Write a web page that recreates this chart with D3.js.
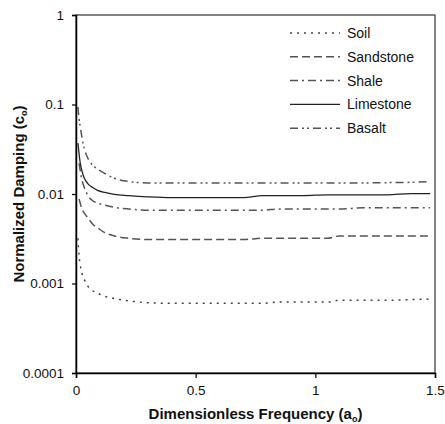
<!DOCTYPE html>
<html>
<head>
<meta charset="utf-8">
<script src="https://cdn.jsdelivr.net/npm/d3@7"></script>
<style>
  body { margin: 0; background: #fff; }
  text { font-family: "Liberation Sans", Arial, sans-serif; }
</style>
</head>
<body>
<div id="chart"></div>
<script>
// dimensionless frequency a_o
const freq = [0.008, 0.013, 0.018, 0.025, 0.035, 0.05, 0.07, 0.09, 0.12, 0.16, 0.22, 0.3,
              0.4, 0.5, 0.6, 0.7, 0.78, 0.85, 0.95, 1.05, 1.1, 1.2, 1.3, 1.4, 1.48];

const soil      = [0.0032, 0.0020, 0.0016, 0.0013, 0.0011, 0.00093, 0.00083, 0.00078, 0.00072, 0.00068, 0.00064, 0.00061,
                   0.00060, 0.00060, 0.00060, 0.00060, 0.00060, 0.00062, 0.00062, 0.00062, 0.00065, 0.00065, 0.00065, 0.00066, 0.00067];
const sandstone = [null, 0.0088, 0.0078, 0.0068, 0.0061, 0.0054, 0.0046, 0.0042, 0.0037, 0.0034, 0.0032, 0.0031,
                   0.0031, 0.0031, 0.0031, 0.0031, 0.0032, 0.0032, 0.0032, 0.0032, 0.0034, 0.0034, 0.0034, 0.0034, 0.0034];
const shale     = [null, 0.022, 0.018, 0.0143, 0.0118, 0.0096, 0.0084, 0.0079, 0.0075, 0.0071, 0.0068, 0.0066,
                   0.0066, 0.0066, 0.0066, 0.0066, 0.0066, 0.0068, 0.0068, 0.0068, 0.0068, 0.0070, 0.0070, 0.0070, 0.0070];
const limestone = [0.037, 0.028, 0.022, 0.018, 0.015, 0.013, 0.0118, 0.011, 0.0104, 0.0099, 0.0096, 0.0093,
                   0.0091, 0.0091, 0.0091, 0.0091, 0.0096, 0.0096, 0.0096, 0.0098, 0.0098, 0.0098, 0.0098, 0.0101, 0.0101];
const basalt    = [0.094, 0.068, 0.056, 0.043, 0.032, 0.025, 0.021, 0.019, 0.017, 0.015, 0.0138, 0.0133,
                   0.0133, 0.0133, 0.0133, 0.0133, 0.0133, 0.0133, 0.0133, 0.0133, 0.0133, 0.0133, 0.0134, 0.0135, 0.0138];

const names = ["Soil", "Sandstone", "Shale", "Limestone", "Basalt"];
const values = [soil, sandstone, shale, limestone, basalt];

const xTicks = [0, 0.5, 1, 1.5];
const yTicks = [1, 0.1, 0.01, 0.001, 0.0001];

const dashes = ["2,5", "8,4", "8,4,2,4", null, "8,4,2,3,2,4"];
const colors = ["#444", "#555", "#555", "#222", "#555"];

const margin = { top: 15, right: 10, bottom: 51, left: 76 };
const width = 445 - margin.left - margin.right;
const height = 424 - margin.top - margin.bottom;

const svg = d3.select("#chart")
    .append("svg")
    .attr("width", 445)
    .attr("height", 424);

const g = svg.append("g")
    .attr("transform", `translate(${margin.left},${margin.top})`);

const x = d3.scaleLinear().domain([0, 1.5]).range([0, width]);
const y = d3.scaleLog().domain([0.0001, 1]).range([height, 0]);

// frame
g.append("rect")
    .attr("width", width)
    .attr("height", height)
    .attr("fill", "none")
    .attr("stroke", "#333")
    .attr("stroke-width", 1.2);

const xAxis = g.append("g")
    .attr("transform", `translate(0,${height})`)
    .call(d3.axisBottom(x).tickValues(xTicks).tickSize(5).tickPadding(7).tickFormat(d3.format("")));

const yAxis = g.append("g")
    .call(d3.axisLeft(y).tickValues(yTicks).tickSize(4).tickPadding(8).tickFormat(d => String(d)));

[xAxis, yAxis].forEach(a => {
    a.select(".domain").attr("stroke", "#000").attr("stroke-width", 1.5);
    a.selectAll(".tick line").attr("stroke", "#000").attr("stroke-width", 1.2);
    a.selectAll("text").attr("font-size", 13.5).attr("fill", "#111")
        .style("font-family", "'Liberation Sans', Arial, sans-serif");
});

const line = d3.line()
    .defined(d => d[1] != null)
    .x(d => x(d[0]))
    .y(d => y(d[1]))
    .curve(d3.curveMonotoneX);

values.forEach((vals, i) => {
    g.append("path")
        .datum(freq.map((f, j) => [f, vals[j]]))
        .attr("fill", "none")
        .attr("stroke", colors[i])
        .attr("stroke-width", i === 3 ? 1.3 : 1.5)
        .attr("stroke-dasharray", dashes[i])
        .attr("d", line);
});

// legend
const legend = svg.append("g").attr("transform", "translate(290,33)");
const items = legend.selectAll("g")
    .data(names)
    .join("g")
    .attr("transform", (d, i) => `translate(0,${i * 23.8})`);

items.append("line")
    .attr("x1", 0).attr("x2", 50)
    .attr("stroke", (d, i) => colors[i])
    .attr("stroke-width", (d, i) => i === 3 ? 1.3 : 1.5)
    .attr("stroke-dasharray", (d, i) => dashes[i]);

items.append("text")
    .attr("x", 57)
    .attr("y", 5)
    .attr("font-size", 14)
    .attr("fill", "#111")
    .text(d => d);

// axis titles
const xt = svg.append("text")
    .attr("x", margin.left + width / 2)
    .attr("y", 419)
    .attr("text-anchor", "middle")
    .attr("font-size", 15)
    .attr("font-weight", "bold")
    .attr("fill", "#111")
    .text("Dimensionless Frequency (a");
xt.append("tspan").attr("font-size", 9).attr("dy", 3).text("o");
xt.append("tspan").attr("dy", -3).text(")");

const yt = svg.append("text")
    .attr("transform", `translate(24,${margin.top + height / 2}) rotate(-90)`)
    .attr("text-anchor", "middle")
    .attr("font-size", 15)
    .attr("font-weight", "bold")
    .attr("fill", "#111")
    .text("Normalized Damping (c");
yt.append("tspan").attr("font-size", 9).attr("dy", 3).text("o");
yt.append("tspan").attr("dy", -3).text(")");
</script>
</body>
</html>
